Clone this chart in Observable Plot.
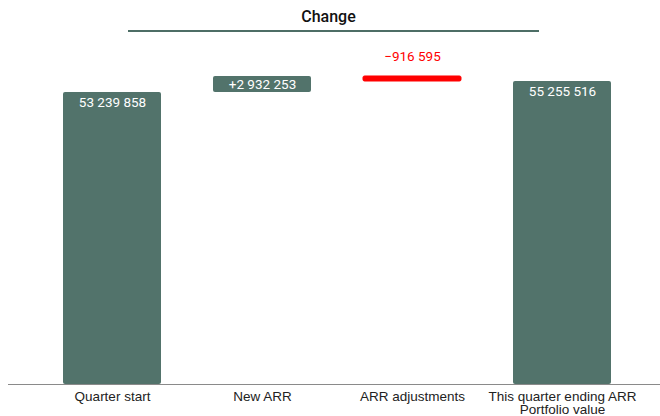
<!DOCTYPE html>
<html><head><meta charset="utf-8">
<script src="https://cdn.jsdelivr.net/npm/d3@7"></script>
<script src="https://cdn.jsdelivr.net/npm/@observablehq/plot@0.6"></script>
<style>
body{margin:0;background:#fff;}
#wrap{position:relative;width:660px;height:416px;overflow:hidden;}
#head{position:relative;height:36px;}
#title{position:absolute;left:118px;width:421px;top:7px;text-align:center;font:500 16px Roboto,sans-serif;color:#111;}
#rule{position:absolute;left:128px;width:411px;top:30px;height:2px;background:#4d6e66;}
#chart svg{display:block;}
</style></head>
<body><div id="wrap"><div id="head"><div id="title">Change</div><div id="rule"></div></div><div id="chart"></div></div>
<script>
const categories = ["Quarter start", "New ARR", "ARR adjustments", "This quarter ending ARR Portfolio value"];
const tickLabels = ["Quarter start", "New ARR", "ARR adjustments", "This quarter ending ARR\nPortfolio value"];
const kinds = ["total", "increase", "decrease", "total"];
const values = [53239858, 2932253, -916595, 55255516];

const fmt = d3.formatLocale({decimal: ".", thousands: " ", grouping: [3], currency: ["", ""], minus: "\u2212"});
const fmtNum = fmt.format(",d");
const fmtSigned = fmt.format("+,d");

let running = 0;
const rows = categories.map((c, i) => {
  const k = kinds[i], v = values[i];
  let y1, y2;
  if (k === "total") { y1 = 0; y2 = v; running = v; }
  else { y1 = running; y2 = running + v; running = y2; }
  return {cat: c, kind: k, value: v, y1, y2, top: Math.max(y1, y2), mid: (y1 + y2) / 2,
          label: k === "total" ? fmtNum(v) : fmtSigned(v)};
});

const green = "#52736b";
const chart = Plot.plot({
  width: 660,
  height: 380,
  marginLeft: 8,
  marginRight: 0,
  marginTop: 19,
  marginBottom: 32,
  style: {fontFamily: "Roboto, sans-serif", fontSize: "13.5px", background: "#fff"},
  x: {domain: categories, paddingInner: 0.35, paddingOuter: 0.338, align: 0.53, axis: null},
  y: {domain: [0, 60000000], axis: null},
  marks: [
    Plot.rectY(rows.filter(d => d.kind !== "decrease"), {x: "cat", y1: "y1", y2: "y2", fill: green, rx: 2}),
    Plot.rectY(rows.filter(d => d.kind === "decrease"), {x: "cat", y1: "y1", y2: "y2", fill: "#ff0000", stroke: "#ff0000", strokeWidth: 1, rx: 1.5}),
    Plot.ruleY([0], {stroke: "#8a8a8a", strokeWidth: 1.2}),
    Plot.text(rows.filter(d => d.kind === "total"), {x: "cat", y: "y2", text: "label", dy: 10, fill: "white", fontSize: 13.5}),
    Plot.text(rows.filter(d => d.kind === "increase"), {x: "cat", y: "mid", text: "label", fill: "white", fontSize: 13.5}),
    Plot.text(rows.filter(d => d.kind === "decrease"), {x: "cat", y: "top", text: "label", dy: -20, fill: "#ff0000", fontSize: 13.5}),
    Plot.axisX({tickSize: 0, tickPadding: 6.5, fontSize: 13.5, lineHeight: 1, fontFamily: "'Liberation Sans', Arial, sans-serif", fill: "#222",
      tickFormat: d => tickLabels[categories.indexOf(d)], label: null})
  ]
});
document.getElementById("chart").appendChild(chart);
</script>
</body></html>
